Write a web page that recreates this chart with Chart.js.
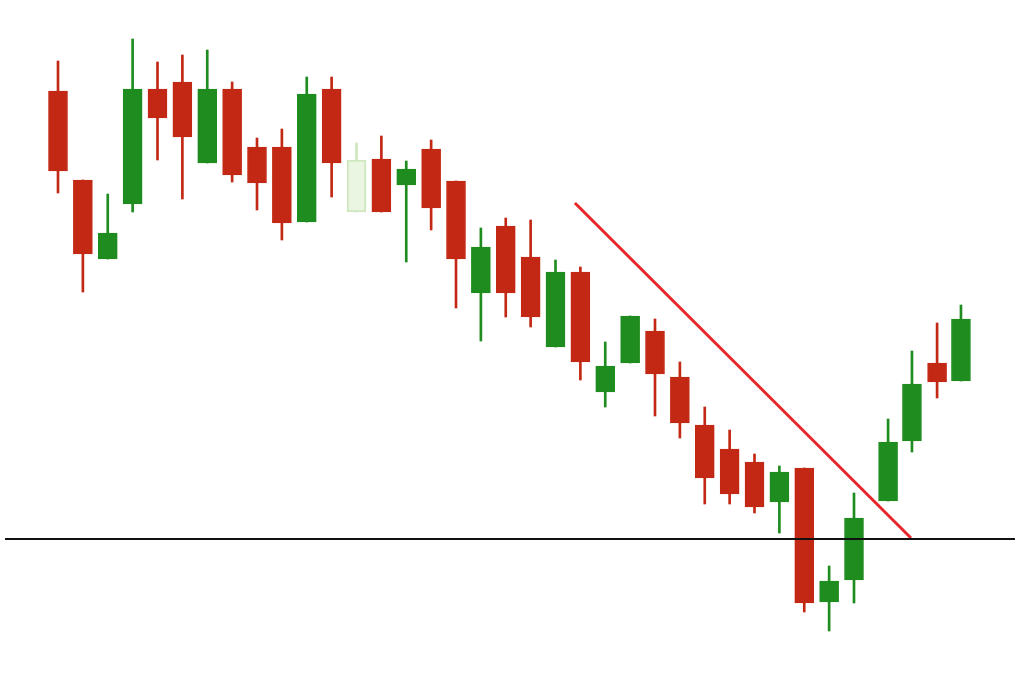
<!DOCTYPE html>
<html>
<head>
<meta charset="utf-8">
<script src="https://cdn.jsdelivr.net/npm/chart.js@4"></script>
<style>
  html, body { margin: 0; padding: 0; background: #ffffff; }
  #wrap { width: 1024px; height: 680px; position: relative; }
</style>
</head>
<body>
<div id="wrap"><canvas id="myChart"></canvas></div>
<script>
// candle positions (session index; the last four sit a bit further right)
const sessions = [0,1,2,3,4,5,6,7,8,9,10,11,12,13,14,15,16,17,18,19,20,21,22,23,24,25,26,27,28,29,30,31,32,33.37,34.33,35.34,36.3];
const opens  = [589,500,421,476,591,598,517,591,533,533,458,591,468,521,495,531,499,387,454,423,333,408,288,317,349,303,255,231,218,178,212,78,100,179,239,317,299];
const highs  = [619,500,486,641,618,625,630,598,542,551,603,603,537,544,519,540,499,452,462,460,420,413,338,364,361,318,273,250,226,214,212,114,187,261,329,357,375];
const lows   = [487,388,421,468,520,481,517,498,470,440,458,483,468,468,418,450,372,339,363,353,333,300,273,317,264,242,176,176,167,147,68,49,77,179,228,282,299];
const closes = [509,426,447,591,562,543,591,505,497,457,586,517,520,468,511,472,421,433,387,363,408,318,314,364,306,257,202,186,173,208,77,99,162,238,296,298,361];
const fadedCandle = 12; // the washed-out candle
const supportLevel = 141;
const supportFrom = -2.13, supportTo = 38.47;
const trendStart = { x: 20.78, y: 477 };
const trendEnd = { x: 34.29, y: 142 };

const RED = '#c32814';
const GREEN = '#1e8c1e';
const PALE = '#eaf5e2';
const PALE_EDGE = '#cfe7bf';

function candleColor(i) {
    if (i === fadedCandle) return PALE;
    return closes[i] >= opens[i] ? GREEN : RED;
}

const bodies = sessions.map((x, i) => ({ x: x, y: [opens[i], closes[i]] }));
const wicks = sessions.map((x, i) => ({ x: x, y: [lows[i], highs[i]] }));

const ctx = document.getElementById('myChart').getContext('2d');
const myChart = new Chart(ctx, {
    type: 'bar',
    data: {
        datasets: [
            {
                type: 'line',
                data: [{ x: supportFrom, y: supportLevel }, { x: supportTo, y: supportLevel }],
                borderColor: '#111111',
                borderWidth: 2,
                pointRadius: 0,
                order: 0
            },
            {
                type: 'line',
                data: [trendStart, trendEnd],
                borderColor: '#e8262a',
                borderWidth: 3,
                pointRadius: 0,
                order: 0
            },
            {
                data: bodies,
                backgroundColor: sessions.map((x, i) => candleColor(i)),
                borderColor: sessions.map((x, i) => i === fadedCandle ? PALE_EDGE : candleColor(i)),
                borderWidth: sessions.map((x, i) => i === fadedCandle ? 2 : 1),
                borderSkipped: false,
                barThickness: 19,
                grouped: false,
                order: 1
            },
            {
                data: wicks,
                backgroundColor: sessions.map((x, i) => i === fadedCandle ? PALE_EDGE : candleColor(i)),
                borderWidth: 0,
                barThickness: 2,
                grouped: false,
                order: 2
            }
        ]
    },
    options: {
        responsive: true,
        maintainAspectRatio: false,
        animation: false,
        layout: { padding: 0 },
        plugins: { legend: { display: false }, tooltip: { enabled: false } },
        scales: {
            x: { type: 'linear', display: false, offset: false, min: -2.3317, max: 38.834 },
            y: { type: 'linear', display: false, min: 0, max: 680 }
        }
    }
});
</script>
</body>
</html>
